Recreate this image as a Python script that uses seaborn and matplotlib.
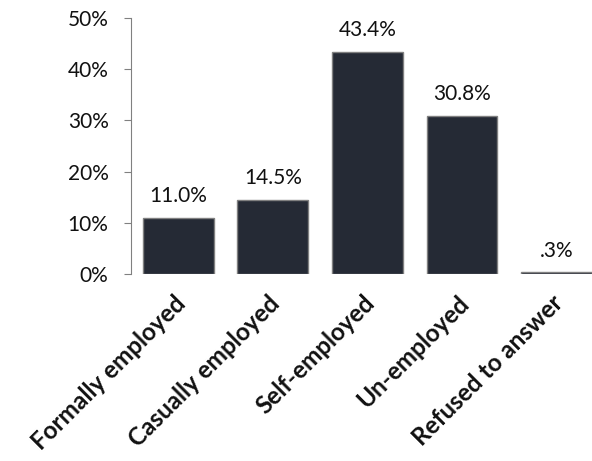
import matplotlib
matplotlib.use("Agg")
from matplotlib import pyplot as plt
import matplotlib.transforms as mtransforms
import pandas as pd
import seaborn as sns

categories = ["Formally employed", "Casually employed", "Self-employed", "Un-employed", "Refused to answer"]
shares = [11.0, 14.5, 43.4, 30.8, 0.3]
value_labels = ["11.0%", "14.5%", "43.4%", "30.8%", ".3%"]
y_ticks = [0, 10, 20, 30, 40, 50]

df = pd.DataFrame({"Category": categories, "Share": shares})

sns.set_style("white")
plt.rcParams['font.family'] = ['Lato', 'DejaVu Sans']

fig, ax = plt.subplots(figsize=(5.92, 4.61), dpi=100)
fig.subplots_adjust(left=0.221, right=1.0, top=0.961, bottom=0.4056)

sns.barplot(data=df, x="Category", y="Share", color="#252a35", width=0.75,
            edgecolor="#808080", linewidth=1, saturation=1, ax=ax)

# value labels a fixed distance above each bar
for i, lab in enumerate(value_labels):
    ax.annotate(lab, (i, shares[i]), xytext=(0, 11.5), textcoords="offset points",
                ha="center", va="baseline", fontsize=15, color="#111111")

ax.set_ylim(0, 50)
ax.set_xlim(-0.502, 4.375)
ax.set_yticks(y_ticks)
ax.set_yticklabels([f"{t}%" for t in y_ticks])
ax.tick_params(axis="y", left=True, length=5, color="#808080", pad=11,
               labelsize=15, labelcolor="#111111")
ax.tick_params(axis="x", bottom=False, pad=9)
ax.set_xticks(range(len(categories)))
ax.set_xticklabels(categories, rotation=45, ha="right", rotation_mode="anchor",
                   fontsize=17.5, fontweight="bold", color="#111111")
shift = mtransforms.ScaledTranslation(-0.05, 0, fig.dpi_scale_trans)
for lbl in ax.get_xticklabels():
    lbl.set_transform(lbl.get_transform() + shift)
ax.set_xlabel("")
ax.set_ylabel("")
for side in ["top", "right", "bottom"]:
    ax.spines[side].set_visible(False)
ax.spines["left"].set_color("#808080")

fig.savefig("out.png", dpi=100)
